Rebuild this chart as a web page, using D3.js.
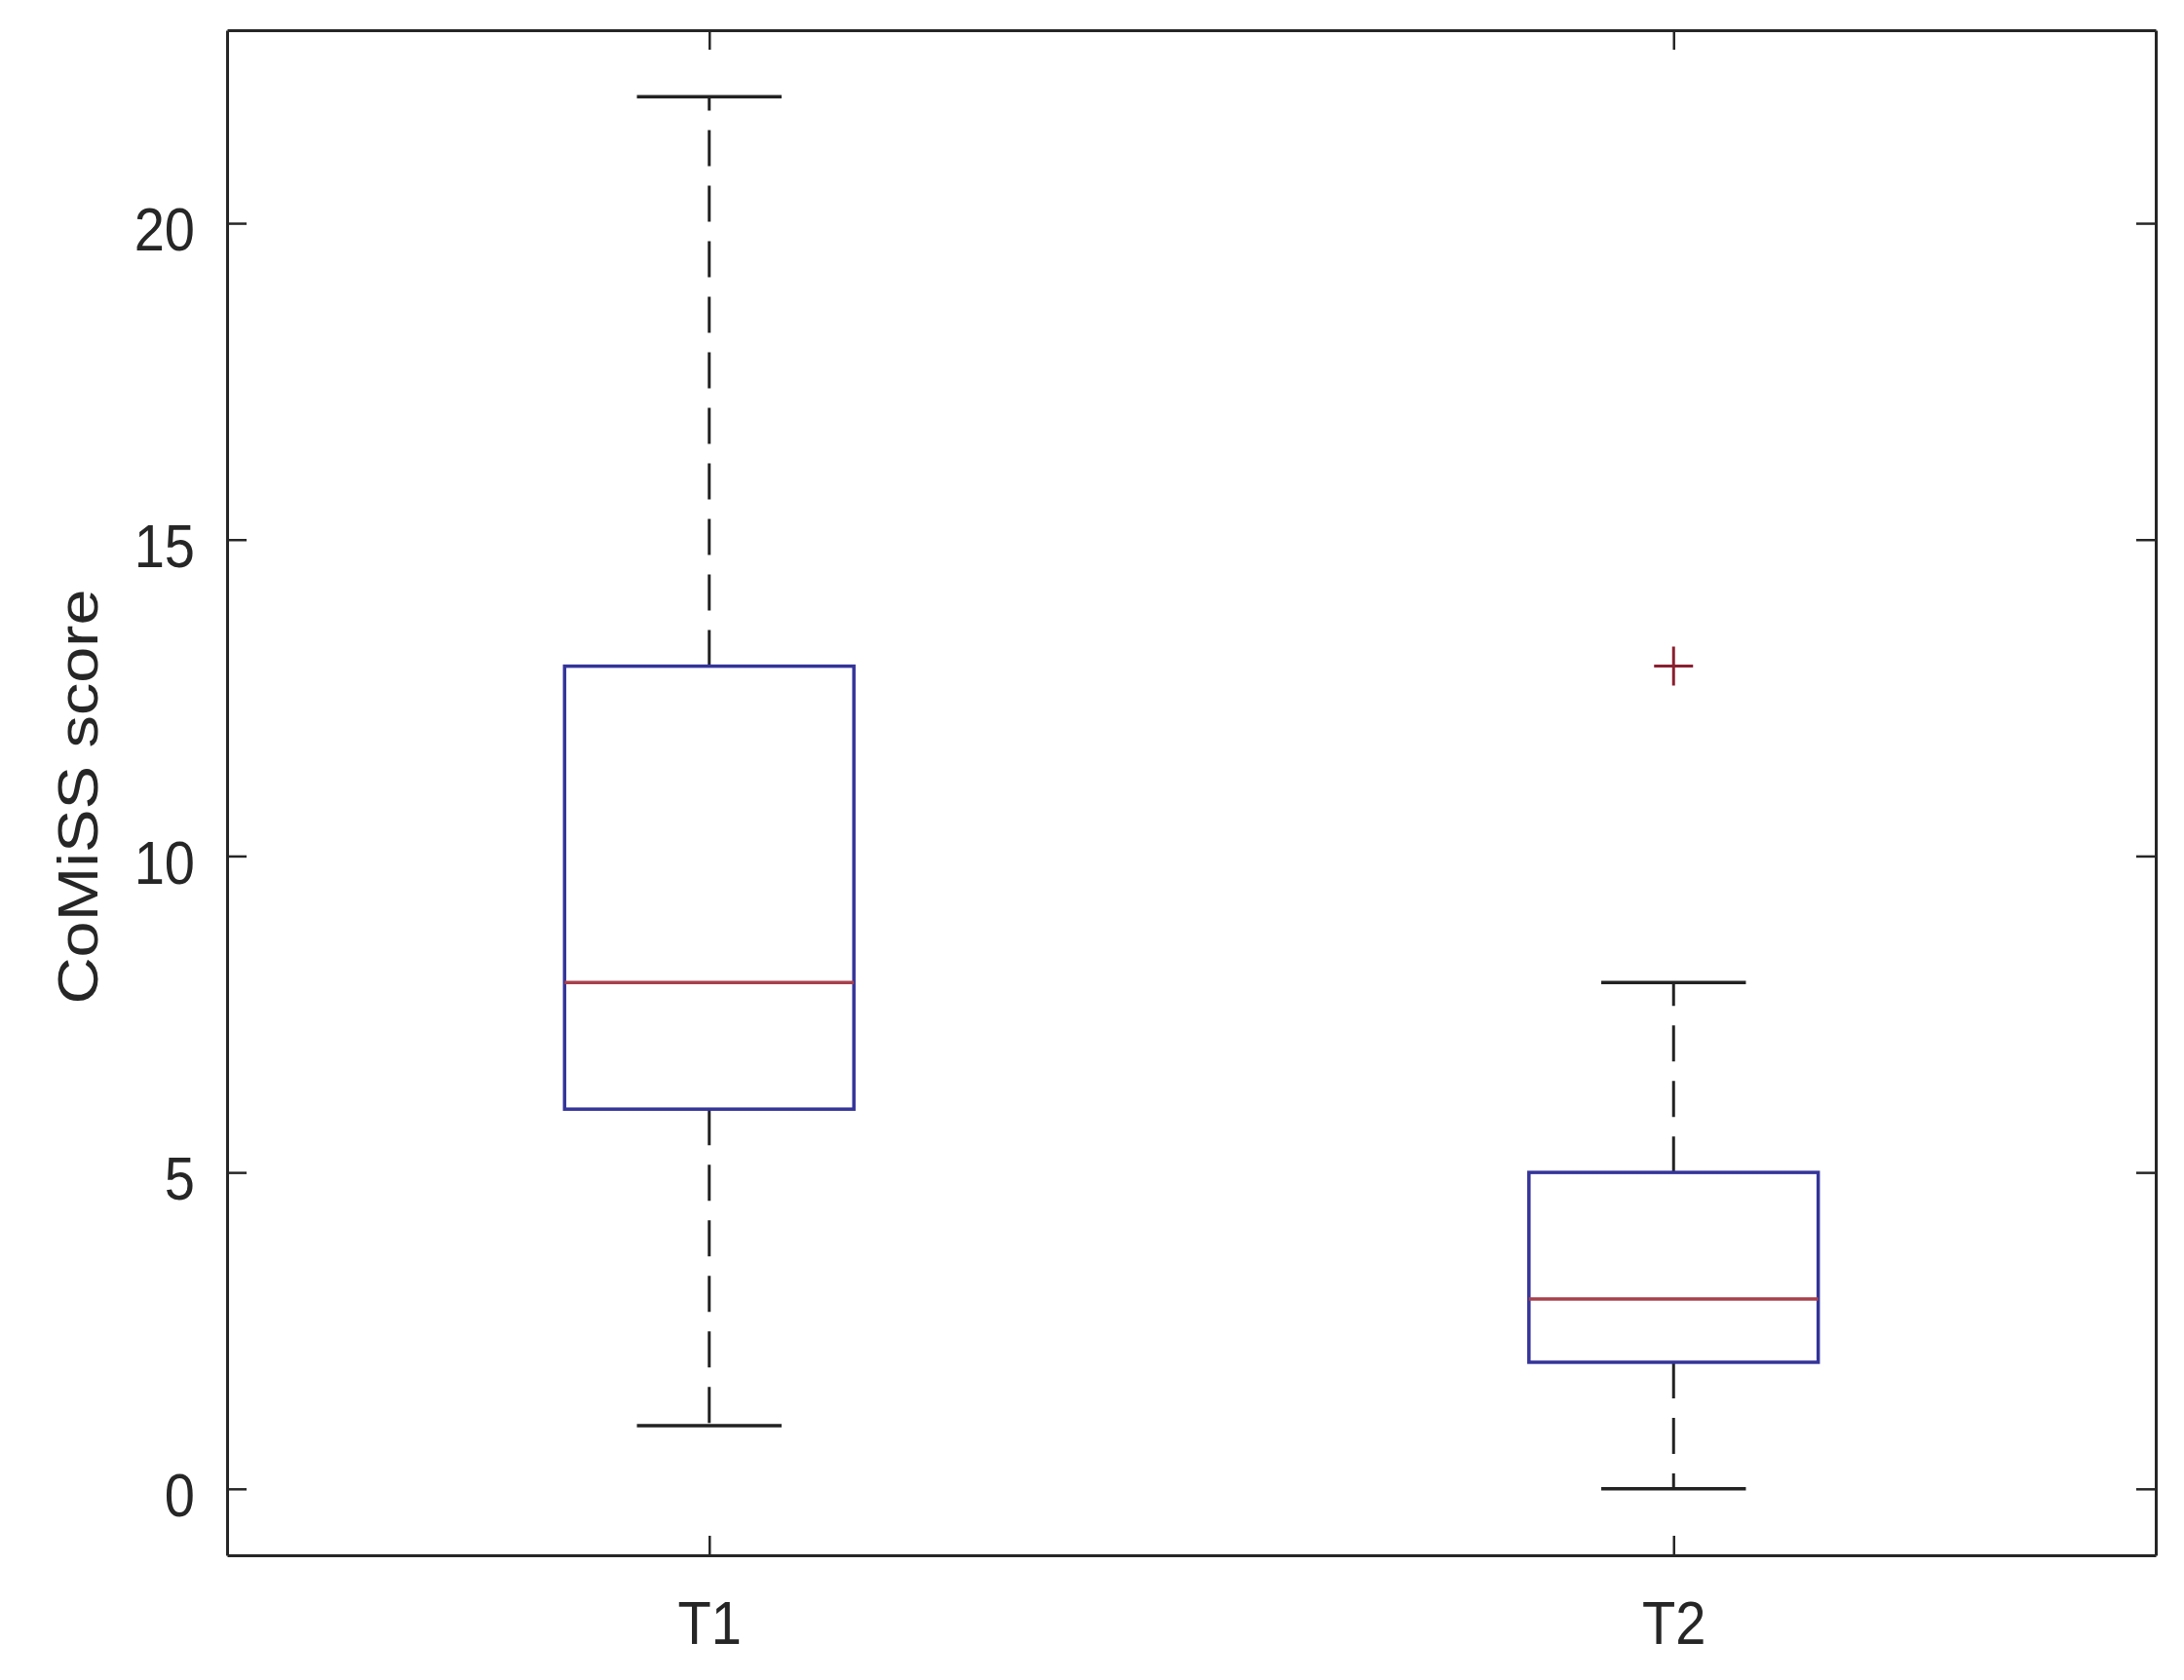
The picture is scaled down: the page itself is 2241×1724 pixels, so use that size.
<!DOCTYPE html>
<html>
<head>
<meta charset="utf-8">
<script src="https://cdn.jsdelivr.net/npm/d3@7"></script>
<style>
  html, body { margin: 0; padding: 0; background: #fff; }
  svg { display: block; }
  text { font-family: "Liberation Sans", Arial, Helvetica, sans-serif; fill: #262626; }
</style>
</head>
<body>
<svg id="chart" width="2241" height="1724"></svg>
<script>
// ---- data ----
const categories   = ["T1", "T2"];
const lowerWhisker = [1, 0];
const q1Values     = [6, 2];
const medianValues = [8, 3];
const q3Values     = [13, 5];
const upperWhisker = [22, 8];
const outlierGroup = ["T2"];
const outlierValue = [13];
const yTickValues  = [0, 5, 10, 15, 20];
const yLabel = "CoMiSS score";

(function () {
// ---- layout ----
const W = 2241, H = 1724;
const pL = 233, pR = 2212, pT = 31, pB = 1596;
const svg = d3.select("#chart");
svg.append("rect").attr("width", W).attr("height", H).attr("fill", "#fff");

const x = d3.scalePoint().domain(categories).range([pL, pR]).padding(0.5);
const y = d3.scaleLinear().domain([-1.05, 23.05]).range([pB, pT]);
const step = x.step();
const boxHalf = 0.15 * step;
const capHalf = 0.075 * step;

const boxes = categories.map((c, i) => ({
  c, lo: lowerWhisker[i], q1: q1Values[i], med: medianValues[i], q3: q3Values[i], hi: upperWhisker[i]
}));

const g = svg.append("g");

// whiskers (dashed)
g.selectAll(".wu").data(boxes).join("line")
  .attr("x1", d => x(d.c)).attr("x2", d => x(d.c))
  .attr("y1", d => y(d.q3)).attr("y2", d => y(d.hi))
  .attr("stroke", "#222").attr("stroke-width", 3).attr("stroke-dasharray", "37,20");
g.selectAll(".wl").data(boxes).join("line")
  .attr("x1", d => x(d.c)).attr("x2", d => x(d.c))
  .attr("y1", d => y(d.q1)).attr("y2", d => y(d.lo))
  .attr("stroke", "#222").attr("stroke-width", 3).attr("stroke-dasharray", "37,20");

// caps
g.selectAll(".cu").data(boxes).join("line")
  .attr("x1", d => x(d.c) - capHalf).attr("x2", d => x(d.c) + capHalf)
  .attr("y1", d => y(d.hi)).attr("y2", d => y(d.hi))
  .attr("stroke", "#222").attr("stroke-width", 3.5);
g.selectAll(".cl").data(boxes).join("line")
  .attr("x1", d => x(d.c) - capHalf).attr("x2", d => x(d.c) + capHalf)
  .attr("y1", d => y(d.lo)).attr("y2", d => y(d.lo))
  .attr("stroke", "#222").attr("stroke-width", 3.5);

// boxes
g.selectAll(".box").data(boxes).join("rect")
  .attr("x", d => x(d.c) - boxHalf).attr("width", 2 * boxHalf)
  .attr("y", d => y(d.q3)).attr("height", d => y(d.q1) - y(d.q3))
  .attr("fill", "none").attr("stroke", "#34349a").attr("stroke-width", 3.5);

// medians
g.selectAll(".med").data(boxes).join("line")
  .attr("x1", d => x(d.c) - boxHalf).attr("x2", d => x(d.c) + boxHalf)
  .attr("y1", d => y(d.med)).attr("y2", d => y(d.med))
  .attr("stroke", "#a8404c").attr("stroke-width", 3.5);

// outliers
const outs = outlierGroup.map((c, i) => ({ c, v: outlierValue[i] }));
g.selectAll(".out").data(outs).join("path")
  .attr("d", d => `M${x(d.c) - 20},${y(d.v)}H${x(d.c) + 20}M${x(d.c)},${y(d.v) - 20}V${y(d.v) + 20}`)
  .attr("stroke", "#8a2030").attr("stroke-width", 3).attr("fill", "none");

// ---- axes ----
function styleAxis(sel) {
  sel.select(".domain").attr("stroke", "#262626").attr("stroke-width", 3);
  sel.selectAll(".tick line").attr("stroke", "#262626").attr("stroke-width", 2.5);
}
const fs = 56, vs = 1.13;

const axL = svg.append("g").attr("transform", `translate(${pL},0)`)
  .call(d3.axisLeft(y).tickValues(yTickValues).tickSizeInner(-20).tickSizeOuter(0).tickPadding(33).tickFormat(d3.format("d")));
styleAxis(axL);
axL.selectAll(".tick text").attr("font-size", fs).attr("dy", "0.44em")
  .attr("transform", `scale(1,${vs})`).style("font-family", '"Liberation Sans", Arial, sans-serif').attr("fill", "#262626");

const axR = svg.append("g").attr("transform", `translate(${pR},0)`)
  .call(d3.axisRight(y).tickValues(yTickValues).tickSizeInner(-20).tickSizeOuter(0).tickFormat(""));
styleAxis(axR);

const axB = svg.append("g").attr("transform", `translate(0,${pB})`)
  .call(d3.axisBottom(x).tickSizeInner(-20).tickSizeOuter(0));
styleAxis(axB);
axB.selectAll(".tick text").attr("font-size", fs).attr("y", 80.5).attr("dy", 0)
  .attr("transform", `scale(1,${vs})`).style("font-family", '"Liberation Sans", Arial, sans-serif').attr("fill", "#262626");

const axT = svg.append("g").attr("transform", `translate(0,${pT})`)
  .call(d3.axisTop(x).tickSizeInner(-20).tickSizeOuter(0).tickFormat(""));
styleAxis(axT);

// y label
svg.append("text")
  .attr("transform", `translate(100,${(pT + pB) / 2 + 4}) rotate(-90) scale(1.15,1)`)
  .attr("text-anchor", "middle")
  .attr("font-size", 58)
  .text(yLabel);
})();
</script>
</body>
</html>
